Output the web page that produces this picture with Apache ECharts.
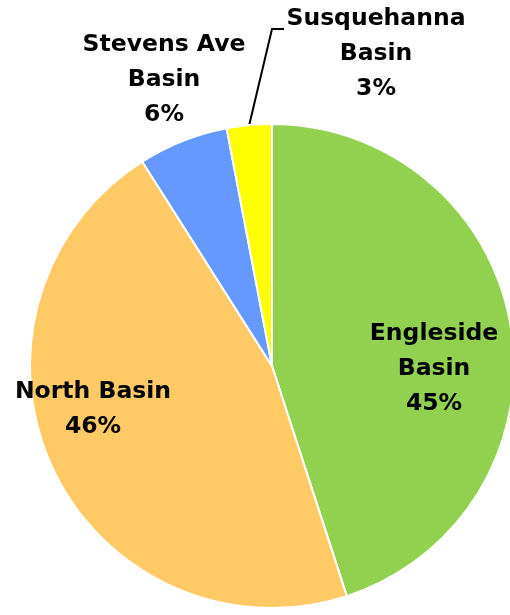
<!DOCTYPE html>
<html><head><meta charset="utf-8">
<script src="https://cdn.jsdelivr.net/npm/echarts@6/dist/echarts.min.js"></script>
<style>html,body{margin:0;padding:0;background:#fff}#c{width:510px;height:615px}</style>
</head><body><div id="c"></div>
<script>
const categories = ['Engleside Basin', 'North Basin', 'Stevens Ave Basin', 'Susquehanna Basin'];
const labelNames = ['Engleside\nBasin', 'North Basin', 'Stevens Ave\nBasin', 'Susquehanna\nBasin'];
const values = [45, 46, 6, 3];
const colors = ['#92D050', '#FFC966', '#6699FF', '#FFFF00'];

// label anchor positions (label centers), in px
const labelPos = [[434, 369], [93, 409], [164, 80], [376, 54]];

const chart = echarts.init(document.getElementById('c'), null, {renderer: 'canvas'});
chart.setOption({
  animation: false,
  series: [{
    type: 'pie',
    center: [272, 366],
    radius: 242,
    startAngle: 90,
    clockwise: true,
    avoidLabelOverlap: false,
    data: categories.map((c, i) => ({
      name: c, value: values[i],
      itemStyle: {color: colors[i]},
      label: {formatter: labelNames[i] + '\n' + values[i] + '%'},
      labelLine: {show: i === 3}
    })),
    itemStyle: {borderColor: '#fff', borderWidth: 2},
    label: {
      show: true,
      position: 'outside',
      alignTo: 'none',
      overflow: 'none',
      color: '#000',
      fontFamily: 'DejaVu Sans',
      fontWeight: 'bold',
      fontSize: 23.5,
      lineHeight: 35,
      align: 'center'
    },
    labelLine: {show: true, lineStyle: {color: '#000', width: 2}, length: 10, length2: 10},
    labelLayout: function (p) {
      const i = p.dataIndex;
      const out = {x: labelPos[i][0], y: labelPos[i][1], align: 'center', verticalAlign: 'middle', hideOverlap: false, width: 300};
      if (i === 3 && p.labelLinePoints) {
        const s = p.labelLinePoints[0];
        out.labelLinePoints = [s, [272, 29], [284, 29]];
      }
      return out;
    }
  }]
});
</script></body></html>
